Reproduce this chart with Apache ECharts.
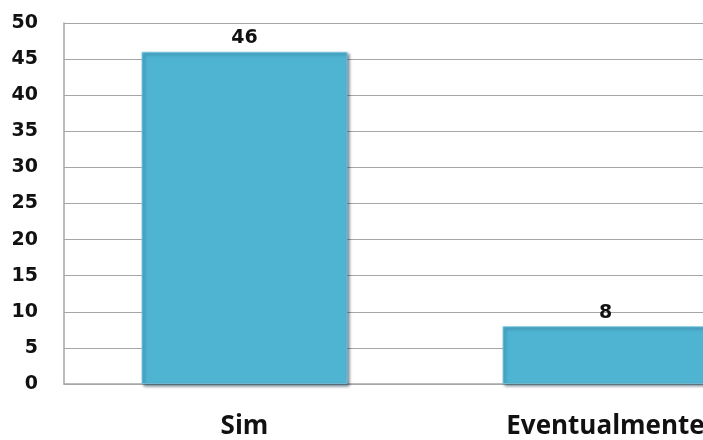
<!DOCTYPE html>
<html><head><meta charset="utf-8">
<script src="https://cdn.jsdelivr.net/npm/echarts@6/dist/echarts.min.js"></script>
<style>html,body{margin:0;padding:0;background:#fff;overflow:hidden;width:703px;height:440px}#c{width:800px;height:440px}</style>
</head><body><div id="c"></div>
<script>
var categories = ["Sim", "Eventualmente"];
var values = [46, 8];
var yTicks = [0, 5, 10, 15, 20, 25, 30, 35, 40, 45, 50];

var chart = echarts.init(document.getElementById('c'), null, {renderer: 'canvas'});
chart.setOption({
  animation: false,
  grid: {left: 64, right: 14, top: 23, bottom: 54, containLabel: false},
  xAxis: {
    type: 'category', data: categories,
    axisLine: {show: true, lineStyle: {color: '#A6A6A6', width: 1.5}},
    axisTick: {show: false},
    axisLabel: {margin: 30, fontFamily: 'Open Sans', fontWeight: 'bold', fontSize: 26, color: '#111'}
  },
  yAxis: {
    type: 'value', min: yTicks[0], max: yTicks[yTicks.length - 1], interval: 5,
    axisLine: {show: true, lineStyle: {color: '#A6A6A6', width: 1.5}},
    axisTick: {show: false},
    splitLine: {show: true, lineStyle: {color: '#A6A6A6', width: 1.2}},
    axisLabel: {margin: 26, fontFamily: 'DejaVu Sans', fontWeight: 'bold', fontSize: 19, color: '#111'}
  },
  series: [{
    type: 'bar', data: values, barCategoryGap: '43%',
    itemStyle: {
      color: '#4FB3D2', borderColor: '#7CC8DF', borderWidth: 0.8,
      shadowColor: 'rgba(0,40,60,0.55)', shadowBlur: 3, shadowOffsetX: 2, shadowOffsetY: 2
    },
    label: {show: true, position: 'top', distance: 4, fontFamily: 'DejaVu Sans', fontWeight: 'bold', fontSize: 19, color: '#111'}
  }]
});
</script></body></html>
